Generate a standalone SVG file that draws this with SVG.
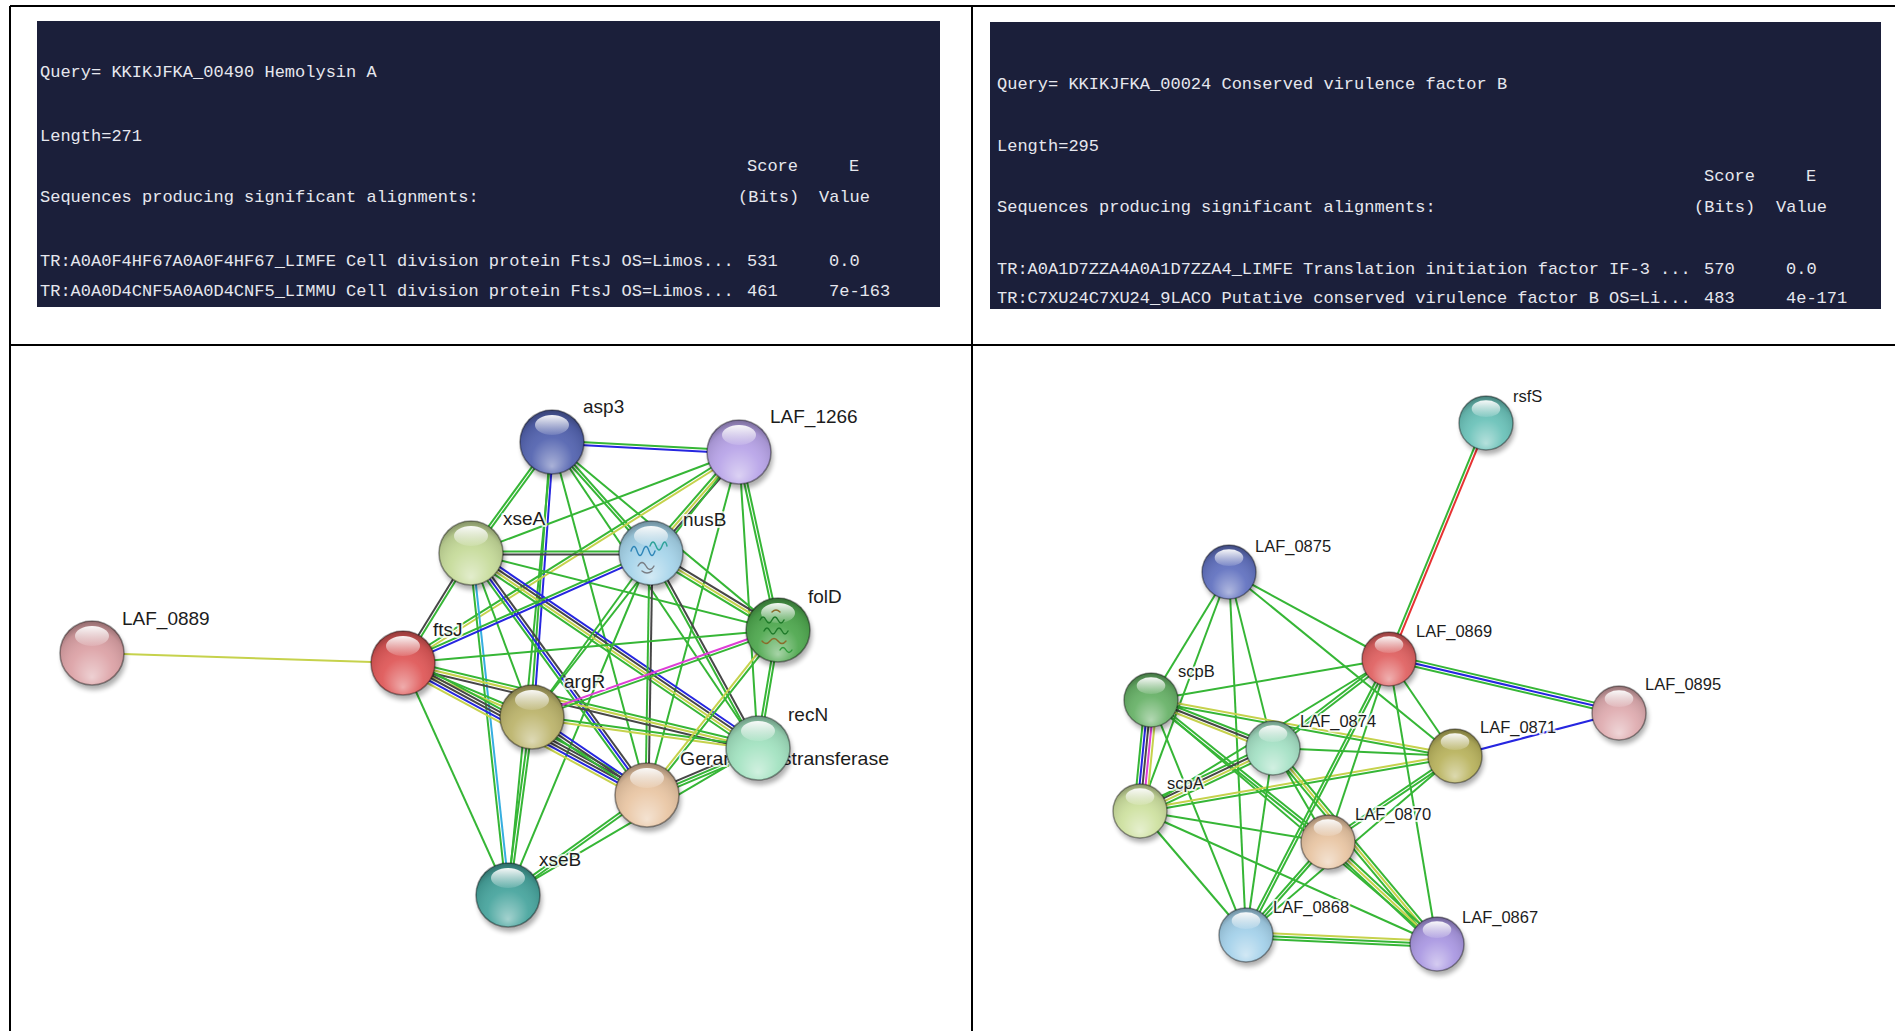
<svg xmlns="http://www.w3.org/2000/svg" width="1895" height="1031" viewBox="0 0 1895 1031">
<style>
.pnl{fill:#1b1f3a}
.mono{font-family:"Liberation Mono","DejaVu Sans Mono",monospace;font-size:17px;fill:#e6e7ee;white-space:pre}
.frame{stroke:#000;stroke-width:2;fill:none}
.lbl{font-family:"Liberation Sans",Arial,sans-serif;fill:#1c1c1c;stroke:#fff;stroke-width:4;stroke-opacity:.8;paint-order:stroke;stroke-linejoin:round}
.l19{font-size:19px}
.l16{font-size:16.5px}
#connectors path{fill:none;stroke-width:2}
.g{stroke:#36b636}
.y{stroke:#c6d24c}
.k{stroke:#474747}
.b{stroke:#2626e0}
.m{stroke:#de3ed6}
.c{stroke:#36aee0}
.r{stroke:#e63232}
.fold{fill:none;stroke-width:1.4;stroke-linecap:round}
</style>
<defs>
  <filter id="soft" x="-40%" y="-40%" width="180%" height="180%">
    <feGaussianBlur stdDeviation="2.5"/>
  </filter>
  <radialGradient id="shade" cx=".5" cy=".62" r=".64" fx=".5" fy=".88">
    <stop offset="0" stop-color="#fff" stop-opacity=".5"/>
    <stop offset=".5" stop-color="#fff" stop-opacity=".06"/>
    <stop offset=".82" stop-color="#000" stop-opacity=".1"/>
    <stop offset="1" stop-color="#000" stop-opacity=".38"/>
  </radialGradient>
  <linearGradient id="gloss" x1="0" y1="0" x2="0" y2="1">
    <stop offset="0" stop-color="#fff" stop-opacity=".95"/>
    <stop offset="1" stop-color="#fff" stop-opacity=".12"/>
  </linearGradient>
  <!-- glossy sphere, base colour taken from the color property -->
  <g id="ball32">
    <circle cx="2" cy="5" r="32" fill="#000" opacity=".32" filter="url(#soft)"/>
    <circle r="32" fill="currentColor"/>
    <circle r="32" fill="url(#shade)" stroke="#000" stroke-opacity=".38" stroke-width="1.6"/>
    <ellipse cy="-17" rx="17" ry="10" fill="url(#gloss)"/>
  </g>
  <g id="ball27">
    <circle cx="2" cy="4.5" r="27" fill="#000" opacity=".32" filter="url(#soft)"/>
    <circle r="27" fill="currentColor"/>
    <circle r="27" fill="url(#shade)" stroke="#000" stroke-opacity=".38" stroke-width="1.5"/>
    <ellipse cy="-14.3" rx="14.3" ry="8.4" fill="url(#gloss)"/>
  </g>
</defs>

<rect width="1895" height="1031" fill="#fff"/>

<!-- table frame -->
<g id="frame" class="frame">
  <path d="M10 6H1895M10 345H1895M10 6V1031M972 6V1031"/>
</g>

<!-- BLAST result, hemolysin A -->
<g id="blast-hlyA">
  <rect class="pnl" x="37" y="21" width="903" height="286"/>
  <text class="mono" x="40" y="77">Query= KKIKJFKA_00490 Hemolysin A</text>
  <text class="mono" x="40" y="141">Length=271</text>
  <text class="mono" x="747" y="171">Score</text>
  <text class="mono" x="849" y="171">E</text>
  <text class="mono" x="40" y="202">Sequences producing significant alignments:</text>
  <text class="mono" x="738" y="202">(Bits)</text>
  <text class="mono" x="819" y="202">Value</text>
  <text class="mono" x="40" y="266">TR:A0A0F4HF67A0A0F4HF67_LIMFE Cell division protein FtsJ OS=Limos...</text>
  <text class="mono" x="747" y="266">531</text>
  <text class="mono" x="829" y="266">0.0</text>
  <text class="mono" x="40" y="296">TR:A0A0D4CNF5A0A0D4CNF5_LIMMU Cell division protein FtsJ OS=Limos...</text>
  <text class="mono" x="747" y="296">461</text>
  <text class="mono" x="829" y="296">7e-163</text>
</g>

<!-- BLAST result, conserved virulence factor B -->
<g id="blast-cvfB">
  <rect class="pnl" x="990" y="22" width="891" height="287"/>
  <text class="mono" x="997" y="89">Query= KKIKJFKA_00024 Conserved virulence factor B</text>
  <text class="mono" x="997" y="151">Length=295</text>
  <text class="mono" x="1704" y="181">Score</text>
  <text class="mono" x="1806" y="181">E</text>
  <text class="mono" x="997" y="212">Sequences producing significant alignments:</text>
  <text class="mono" x="1694" y="212">(Bits)</text>
  <text class="mono" x="1776" y="212">Value</text>
  <text class="mono" x="997" y="274">TR:A0A1D7ZZA4A0A1D7ZZA4_LIMFE Translation initiation factor IF-3 ...</text>
  <text class="mono" x="1704" y="274">570</text>
  <text class="mono" x="1786" y="274">0.0</text>
  <text class="mono" x="997" y="303">TR:C7XU24C7XU24_9LACO Putative conserved virulence factor B OS=Li...</text>
  <text class="mono" x="1704" y="303">483</text>
  <text class="mono" x="1786" y="303">4e-171</text>
</g>

<!-- interaction edges: each group maps local x 0..1 onto the edge and local y onto the perpendicular (px) -->
<g id="connectors">
  <!-- left network -->
  <g transform="matrix(311 10 -0.032 0.999 92 653)"><path class="y" d="M0 0H1"/></g>
  <g transform="matrix(187 10 -0.053 0.998 552 442)"><path class="g" d="M0 -1.5H1"/><path class="b" d="M0 1.5H1"/></g>
  <g transform="matrix(-81 111 -0.808 -0.590 552 442)"><path class="g" d="M0 -1.5H1"/><path class="g" d="M0 1.5H1"/></g>
  <g transform="matrix(-20 275 -0.997 -0.073 552 442)"><path class="b" d="M0 -1.5H1"/><path class="g" d="M0 1.5H1"/></g>
  <g transform="matrix(99 111 -0.746 0.666 552 442)"><path class="g" d="M0 -1.5H1"/><path class="g" d="M0 1.5H1"/></g>
  <g transform="matrix(226 188 -0.639 0.769 552 442)"><path class="g" d="M0 0H1"/></g>
  <g transform="matrix(206 306 -0.830 0.558 552 442)"><path class="g" d="M0 0H1"/></g>
  <g transform="matrix(95 353 -0.966 0.260 552 442)"><path class="g" d="M0 0H1"/></g>
  <g transform="matrix(-44 453 -0.995 -0.097 552 442)"><path class="g" d="M0 0H1"/></g>
  <g transform="matrix(-268 101 -0.353 -0.936 739 452)"><path class="g" d="M0 0H1"/></g>
  <g transform="matrix(-88 101 -0.754 -0.657 739 452)"><path class="k" d="M0 -3H1"/><path class="y" d="M0 0H1"/><path class="g" d="M0 3H1"/></g>
  <g transform="matrix(-336 211 -0.532 -0.847 739 452)"><path class="y" d="M0 -1.5H1"/><path class="g" d="M0 1.5H1"/></g>
  <g transform="matrix(39 178 -0.977 0.214 739 452)"><path class="g" d="M0 -1.5H1"/><path class="g" d="M0 1.5H1"/></g>
  <g transform="matrix(19 296 -0.998 0.064 739 452)"><path class="g" d="M0 0H1"/></g>
  <g transform="matrix(-207 265 -0.788 -0.616 739 452)"><path class="g" d="M0 0H1"/></g>
  <g transform="matrix(-92 343 -0.966 -0.259 739 452)"><path class="g" d="M0 0H1"/></g>
  <g transform="matrix(180 0 0 1 471 553)"><path class="g" d="M0 -1.5H1"/><path class="k" d="M0 1.5H1"/></g>
  <g transform="matrix(-68 110 -0.851 -0.526 471 553)"><path class="g" d="M0 -1.5H1"/><path class="k" d="M0 1.5H1"/></g>
  <g transform="matrix(307 77 -0.243 0.970 471 553)"><path class="g" d="M0 0H1"/></g>
  <g transform="matrix(287 195 -0.562 0.827 471 553)"><path class="b" d="M0 -4.5H1"/><path class="k" d="M0 -1.5H1"/><path class="y" d="M0 1.5H1"/><path class="g" d="M0 4.5H1"/></g>
  <g transform="matrix(176 242 -0.809 0.588 471 553)"><path class="k" d="M0 -3H1"/><path class="b" d="M0 0H1"/><path class="g" d="M0 3H1"/></g>
  <g transform="matrix(61 164 -0.937 0.349 471 553)"><path class="g" d="M0 0H1"/></g>
  <g transform="matrix(37 342 -0.994 0.108 471 553)"><path class="c" d="M0 -1.5H1"/><path class="g" d="M0 1.5H1"/></g>
  <g transform="matrix(-248 110 -0.405 -0.914 651 553)"><path class="b" d="M0 -1.5H1"/><path class="g" d="M0 1.5H1"/></g>
  <g transform="matrix(127 77 -0.519 0.855 651 553)"><path class="k" d="M0 -3H1"/><path class="y" d="M0 0H1"/><path class="g" d="M0 3H1"/></g>
  <g transform="matrix(107 195 -0.877 0.481 651 553)"><path class="k" d="M0 -1.5H1"/><path class="g" d="M0 1.5H1"/></g>
  <g transform="matrix(-4 242 -1 -0.017 651 553)"><path class="k" d="M0 -1.5H1"/><path class="g" d="M0 1.5H1"/></g>
  <g transform="matrix(-119 164 -0.809 -0.587 651 553)"><path class="g" d="M0 0H1"/></g>
  <g transform="matrix(-143 342 -0.923 -0.386 651 553)"><path class="g" d="M0 0H1"/></g>
  <g transform="matrix(129 54 -0.386 0.923 403 663)"><path class="g" d="M0 -1.5H1"/><path class="y" d="M0 1.5H1"/></g>
  <g transform="matrix(375 -33 0.088 0.996 403 663)"><path class="g" d="M0 0H1"/></g>
  <g transform="matrix(355 85 -0.233 0.973 403 663)"><path class="g" d="M0 -3H1"/><path class="y" d="M0 0H1"/><path class="k" d="M0 3H1"/></g>
  <g transform="matrix(244 132 -0.476 0.880 403 663)"><path class="g" d="M0 -6H1"/><path class="k" d="M0 -3H1"/><path class="k" d="M0 0H1"/><path class="b" d="M0 3H1"/><path class="y" d="M0 6H1"/></g>
  <g transform="matrix(105 232 -0.911 0.412 403 663)"><path class="g" d="M0 0H1"/></g>
  <g transform="matrix(246 -87 0.333 0.943 532 717)"><path class="m" d="M0 -1.5H1"/><path class="g" d="M0 1.5H1"/></g>
  <g transform="matrix(226 31 -0.136 0.991 532 717)"><path class="g" d="M0 -1.5H1"/><path class="y" d="M0 1.5H1"/></g>
  <g transform="matrix(115 78 -0.561 0.827 532 717)"><path class="b" d="M0 -3H1"/><path class="k" d="M0 0H1"/><path class="g" d="M0 3H1"/></g>
  <g transform="matrix(-24 178 -0.991 -0.134 532 717)"><path class="g" d="M0 -1.5H1"/><path class="g" d="M0 1.5H1"/></g>
  <g transform="matrix(-20 118 -0.986 -0.167 778 630)"><path class="g" d="M0 -1.5H1"/><path class="g" d="M0 1.5H1"/></g>
  <g transform="matrix(-131 165 -0.783 -0.622 778 630)"><path class="g" d="M0 -1.5H1"/><path class="y" d="M0 1.5H1"/></g>
  <g transform="matrix(-111 47 -0.390 -0.921 758 748)"><path class="g" d="M0 -4.5H1"/><path class="g" d="M0 -1.5H1"/><path class="k" d="M0 1.5H1"/></g>
  <g transform="matrix(-139 100 -0.584 -0.812 647 795)"><path class="g" d="M0 -1.5H1"/><path class="g" d="M0 1.5H1"/></g>
  <g transform="matrix(-250 147 -0.507 -0.862 758 748)"><path class="g" d="M0 0H1"/></g>

  <!-- right network -->
  <g transform="matrix(-97 236 -0.925 -0.380 1486 423)"><path class="r" d="M0 -1.5H1"/><path class="g" d="M0 1.5H1"/></g>
  <g transform="matrix(230 54 -0.229 0.973 1389 659)"><path class="b" d="M0 -1.5H1"/><path class="g" d="M0 1.5H1"/><path class="g" d="M0 -4.5H1"/></g>
  <g transform="matrix(164 -43 0.254 0.967 1455 756)"><path class="b" d="M0 0H1"/></g>
  <g transform="matrix(-78 128 -0.854 -0.520 1229 572)"><path class="g" d="M0 0H1"/></g>
  <g transform="matrix(-89 239 -0.937 -0.349 1229 572)"><path class="g" d="M0 0H1"/></g>
  <g transform="matrix(44 176 -0.970 0.243 1229 572)"><path class="g" d="M0 0H1"/></g>
  <g transform="matrix(17 363 -0.999 0.047 1229 572)"><path class="g" d="M0 0H1"/></g>
  <g transform="matrix(160 87 -0.478 0.879 1229 572)"><path class="g" d="M0 0H1"/></g>
  <g transform="matrix(226 184 -0.631 0.776 1229 572)"><path class="g" d="M0 0H1"/></g>
  <g transform="matrix(238 -41 0.170 0.986 1151 700)"><path class="g" d="M0 0H1"/></g>
  <g transform="matrix(-11 111 -0.995 -0.099 1151 700)"><path class="y" d="M0 -6H1"/><path class="m" d="M0 -3H1"/><path class="k" d="M0 0H1"/><path class="b" d="M0 3H1"/><path class="g" d="M0 6H1"/></g>
  <g transform="matrix(122 48 -0.366 0.931 1151 700)"><path class="g" d="M0 -3H1"/><path class="k" d="M0 0H1"/><path class="y" d="M0 3H1"/></g>
  <g transform="matrix(304 56 -0.181 0.983 1151 700)"><path class="y" d="M0 -1.5H1"/><path class="g" d="M0 1.5H1"/></g>
  <g transform="matrix(177 142 -0.626 0.780 1151 700)"><path class="g" d="M0 -1.5H1"/><path class="g" d="M0 1.5H1"/></g>
  <g transform="matrix(286 244 -0.649 0.761 1151 700)"><path class="g" d="M0 0H1"/></g>
  <g transform="matrix(95 235 -0.927 0.375 1151 700)"><path class="g" d="M0 0H1"/></g>
  <g transform="matrix(133 -63 0.428 0.904 1140 811)"><path class="g" d="M0 -4.5H1"/><path class="k" d="M0 -1.5H1"/><path class="y" d="M0 1.5H1"/><path class="g" d="M0 4.5H1"/></g>
  <g transform="matrix(315 -55 0.172 0.985 1140 811)"><path class="y" d="M0 -1.5H1"/><path class="g" d="M0 1.5H1"/></g>
  <g transform="matrix(188 31 -0.163 0.987 1140 811)"><path class="g" d="M0 0H1"/></g>
  <g transform="matrix(106 124 -0.760 0.650 1140 811)"><path class="g" d="M0 0H1"/></g>
  <g transform="matrix(297 133 -0.409 0.913 1140 811)"><path class="g" d="M0 0H1"/></g>
  <g transform="matrix(249 -152 0.521 0.854 1140 811)"><path class="g" d="M0 0H1"/></g>
  <g transform="matrix(116 -89 0.609 0.793 1273 748)"><path class="g" d="M0 -1.5H1"/><path class="g" d="M0 1.5H1"/></g>
  <g transform="matrix(182 8 -0.044 0.999 1273 748)"><path class="g" d="M0 0H1"/></g>
  <g transform="matrix(164 196 -0.767 0.642 1273 748)"><path class="g" d="M0 -3H1"/><path class="y" d="M0 0H1"/><path class="g" d="M0 3H1"/></g>
  <g transform="matrix(55 94 -0.863 0.505 1273 748)"><path class="g" d="M0 0H1"/></g>
  <g transform="matrix(-27 187 -0.990 -0.143 1273 748)"><path class="g" d="M0 0H1"/></g>
  <g transform="matrix(66 97 -0.827 0.563 1389 659)"><path class="g" d="M0 0H1"/></g>
  <g transform="matrix(-61 183 -0.949 -0.316 1389 659)"><path class="g" d="M0 0H1"/></g>
  <g transform="matrix(-143 276 -0.888 -0.460 1389 659)"><path class="g" d="M0 -1.5H1"/><path class="g" d="M0 1.5H1"/></g>
  <g transform="matrix(48 285 -0.986 0.166 1389 659)"><path class="g" d="M0 0H1"/></g>
  <g transform="matrix(-127 86 -0.561 -0.828 1455 756)"><path class="g" d="M0 -1.5H1"/><path class="g" d="M0 1.5H1"/></g>
  <g transform="matrix(-209 179 -0.650 -0.759 1455 756)"><path class="g" d="M0 0H1"/></g>
  <g transform="matrix(-82 93 -0.750 -0.661 1328 842)"><path class="g" d="M0 -1.5H1"/><path class="g" d="M0 1.5H1"/></g>
  <g transform="matrix(109 102 -0.683 0.730 1328 842)"><path class="g" d="M0 -3H1"/><path class="y" d="M0 0H1"/><path class="g" d="M0 3H1"/></g>
  <g transform="matrix(191 9 -0.047 0.999 1246 935)"><path class="y" d="M0 -3H1"/><path class="g" d="M0 0H1"/><path class="g" d="M0 3H1"/></g>
</g>

<!-- left network nodes -->
<g id="node-LAF_0889"><use href="#ball32" x="92" y="653" color="#dca2a6"/><text class="lbl l19" x="122" y="625">LAF_0889</text></g>
<g id="node-asp3"><use href="#ball32" x="552" y="442" color="#5464b0"/><text class="lbl l19" x="583" y="413">asp3</text></g>
<g id="node-LAF_1266"><use href="#ball32" x="739" y="452" color="#b8a4e8"/><text class="lbl l19" x="770" y="423">LAF_1266</text></g>
<g id="node-xseA"><use href="#ball32" x="471" y="553" color="#c6db9a"/><text class="lbl l19" x="503" y="525">xseA</text></g>
<g id="node-nusB"><use href="#ball32" x="651" y="553" color="#a6d4ea"/>
  <path class="fold" stroke="#2f86b8" d="M631 551q3-9 6 0t6 0t6 0t6 0"/>
  <path class="fold" stroke="#2fa39a" d="M650 546q3-8 6 0t6 0t5 0"/>
  <path class="fold" stroke="#7a7f86" d="M638 566q4-7 8 0t8 0M642 571q5 4 10 0"/>
  <text class="lbl l19" x="683" y="526">nusB</text></g>
<g id="node-folD"><use href="#ball32" x="778" y="630" color="#4fa84f"/>
  <path class="fold" stroke="#1f7a2a" d="M760 620q3-6 6 0t6 0t6 0t6 0M764 631q3-6 6 0t6 0t6 0t6 0"/>
  <path class="fold" stroke="#8a6b2a" d="M762 641q4 5 8 0t8 0t8 0M772 612q4-4 8 0"/>
  <path class="fold" stroke="#2e9a3a" d="M780 650q3-5 6 0t6 0"/>
  <text class="lbl l19" x="808" y="603">folD</text></g>
<g id="node-ftsJ"><use href="#ball32" x="403" y="663" color="#df5858"/><text class="lbl l19" x="433" y="636">ftsJ</text></g>
<g id="node-argR"><use href="#ball32" x="532" y="717" color="#bcb46c"/><text class="lbl l19" x="564" y="688">argR</text></g>
<g id="node-Geranyltranstransferase"><use href="#ball32" x="647" y="795" color="#e9c6a4"/><text class="lbl l19" x="680" y="765" textLength="209" lengthAdjust="spacingAndGlyphs">Geranyltranstransferase</text></g>
<g id="node-recN"><use href="#ball32" x="758" y="748" color="#a2e2c0"/><text class="lbl l19" x="788" y="721">recN</text></g>
<g id="node-xseB"><use href="#ball32" x="508" y="895" color="#48a59e"/><text class="lbl l19" x="539" y="866">xseB</text></g>

<!-- right network nodes -->
<g id="node-rsfS"><use href="#ball27" x="1486" y="423" color="#6bc2b9"/><text class="lbl l16" x="1513" y="402">rsfS</text></g>
<g id="node-LAF_0875"><use href="#ball27" x="1229" y="572" color="#6272c0"/><text class="lbl l16" x="1255" y="552">LAF_0875</text></g>
<g id="node-LAF_0869"><use href="#ball27" x="1389" y="659" color="#e06262"/><text class="lbl l16" x="1416" y="637">LAF_0869</text></g>
<g id="node-scpB"><use href="#ball27" x="1151" y="700" color="#68b268"/><text class="lbl l16" x="1178" y="677">scpB</text></g>
<g id="node-LAF_0895"><use href="#ball27" x="1619" y="713" color="#dfacb0"/><text class="lbl l16" x="1645" y="690">LAF_0895</text></g>
<g id="node-LAF_0874"><use href="#ball27" x="1273" y="748" color="#a5e1c5"/><text class="lbl l16" x="1300" y="727">LAF_0874</text></g>
<g id="node-LAF_0871"><use href="#ball27" x="1455" y="756" color="#b9b35e"/><text class="lbl l16" x="1480" y="733">LAF_0871</text></g>
<g id="node-scpA"><use href="#ball27" x="1140" y="811" color="#cee1a0"/><text class="lbl l16" x="1167" y="789">scpA</text></g>
<g id="node-LAF_0870"><use href="#ball27" x="1328" y="842" color="#e8c5a3"/><text class="lbl l16" x="1355" y="820">LAF_0870</text></g>
<g id="node-LAF_0868"><use href="#ball27" x="1246" y="935" color="#a4d1ea"/><text class="lbl l16" x="1273" y="913">LAF_0868</text></g>
<g id="node-LAF_0867"><use href="#ball27" x="1437" y="944" color="#aa98e2"/><text class="lbl l16" x="1462" y="923">LAF_0867</text></g>
</svg>
